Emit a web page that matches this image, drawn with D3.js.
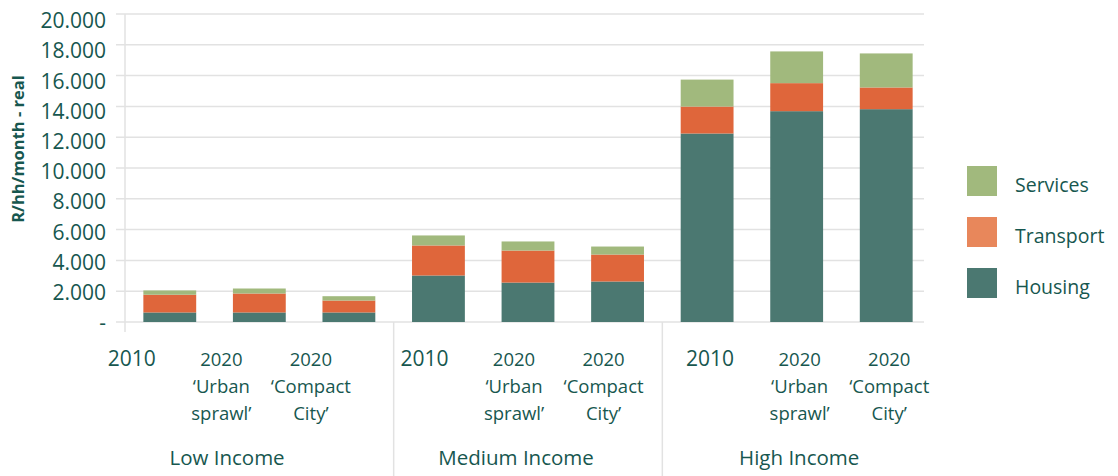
<!DOCTYPE html>
<html>
<head>
<meta charset="utf-8">
<script src="https://cdn.jsdelivr.net/npm/d3@7"></script>
<style>
  html, body { margin: 0; padding: 0; background: #ffffff; }
  svg { display: block; font-family: "Open Sans", "DejaVu Sans", sans-serif; }
</style>
</head>
<body>
<svg id="chart" width="1118" height="476"></svg>
<script>
// ---- data ----
const groups = ["Low Income", "Medium Income", "High Income"];
const scenarios = [["2010"], ["2020", "‘Urban", "sprawl’"], ["2020", "‘Compact", "City’"]];
const categories = [
  "Low 2010", "Low 2020 Urban sprawl", "Low 2020 Compact City",
  "Medium 2010", "Medium 2020 Urban sprawl", "Medium 2020 Compact City",
  "High 2010", "High 2020 Urban sprawl", "High 2020 Compact City"
];
const seriesNames = ["Housing", "Transport", "Services"];
const housing   = [620, 620, 620, 3020, 2560, 2630, 12240, 13690, 13820];
const transport = [1150, 1230, 775, 1950, 2080, 1750, 1750, 1820, 1410];
const services  = [280, 325, 280, 650, 590, 520, 1750, 2060, 2210];
const yTicks = [0, 2000, 4000, 6000, 8000, 10000, 12000, 14000, 16000, 18000, 20000];
const yTickLabels = ["-", "2.000", "4.000", "6.000", "8.000", "10.000", "12.000", "14.000", "16.000", "18.000", "20.000"];
const yTitle = "R/hh/month - real";

// ---- styles / layout ----
const barColors = { Housing: "#4b7871", Transport: "#df663b", Services: "#a1b97d" };
const legendColors = { Services: "#a1b97d", Transport: "#e8875b", Housing: "#4b7871" };
const textColor = "#17574f";
const gridColor = "#e2e2e2";
const groupShift = [-38, -14, 3];

const svg = d3.select("#chart");

const x = d3.scaleBand().domain(categories).range([125, 931]).paddingInner(0.41).paddingOuter(0.205);
const y = d3.scaleLinear().domain([0, 20000]).range([322, 14]);
const yLab = d3.scaleLinear().domain([0, 20000]).range([323, 21]);

// gridlines
svg.append("g").selectAll("line").data(yTicks).join("line")
  .attr("x1", 116).attr("x2", 924)
  .attr("y1", d => y(d)).attr("y2", d => y(d))
  .attr("stroke", gridColor).attr("stroke-width", 1.5);

// vertical axis line & group separators
svg.append("line").attr("x1", 125).attr("x2", 125).attr("y1", 14).attr("y2", 332)
  .attr("stroke", gridColor).attr("stroke-width", 1.5);
[3, 6].forEach(i => {
  const xs = x(categories[i]) - x.step() * x.paddingInner() / 2;
  svg.append("line").attr("x1", xs).attr("x2", xs).attr("y1", 322).attr("y2", 476)
    .attr("stroke", gridColor).attr("stroke-width", 1.5);
});

// y tick labels
const yAxis = d3.axisLeft(yLab).tickValues(yTicks)
  .tickFormat((d, i) => yTickLabels[i]).tickSize(0).tickPadding(10);
const ya = svg.append("g").attr("transform", "translate(116,0)").call(yAxis);
ya.select(".domain").remove();
ya.selectAll("text").attr("fill", textColor).style("font-size", "21px")
  .style("font-family", "'Open Sans', sans-serif");

// y title
svg.append("text")
  .attr("transform", "translate(24,149) rotate(-90)")
  .attr("text-anchor", "middle")
  .attr("fill", textColor)
  .style("font-size", "16.5px").style("font-weight", "bold")
  .text(yTitle);

// stacked bars
const rows = categories.map((c, i) => ({ cat: c, Housing: housing[i], Transport: transport[i], Services: services[i] }));
const stack = d3.stack().keys(seriesNames)(rows);
svg.append("g").selectAll("g").data(stack).join("g")
  .attr("fill", d => barColors[d.key])
  .selectAll("rect").data(d => d).join("rect")
  .attr("x", d => x(d.data.cat))
  .attr("width", x.bandwidth())
  .attr("y", d => y(d[1]))
  .attr("height", d => y(d[0]) - y(d[1]));

// category labels
categories.forEach((c, i) => {
  const g = Math.floor(i / 3), s = i % 3;
  const cx = x(c) + x.bandwidth() / 2 + groupShift[g];
  const lines = scenarios[s];
  const t = svg.append("text").attr("text-anchor", "middle").attr("fill", textColor);
  lines.forEach((ln, k) => {
    t.append("tspan").attr("x", cx).attr("y", 366 + k * 27)
      .style("font-size", (s === 0 ? "21px" : "18.5px"))
      .text(ln);
  });
});

// group labels
groups.forEach((gname, g) => {
  const c0 = x(categories[g * 3]) - x.step() * x.paddingInner() / 2;
  const c1 = x(categories[g * 3 + 2]) + x.bandwidth() + x.step() * x.paddingInner() / 2;
  svg.append("text").attr("x", (c0 + c1) / 2 + groupShift[g] * 0.85).attr("y", 465)
    .attr("text-anchor", "middle").attr("fill", textColor)
    .style("font-size", "20.5px").text(gname);
});

// legend
const legendOrder = ["Services", "Transport", "Housing"];
const lg = svg.append("g").selectAll("g").data(legendOrder).join("g")
  .attr("transform", (d, i) => `translate(967,${166 + i * 51})`);
lg.append("rect").attr("width", 30).attr("height", 30).attr("fill", d => legendColors[d]);
lg.append("text").attr("x", 48).attr("y", 26).attr("fill", textColor)
  .style("font-size", "19.5px").text(d => d);
</script>
</body>
</html>
